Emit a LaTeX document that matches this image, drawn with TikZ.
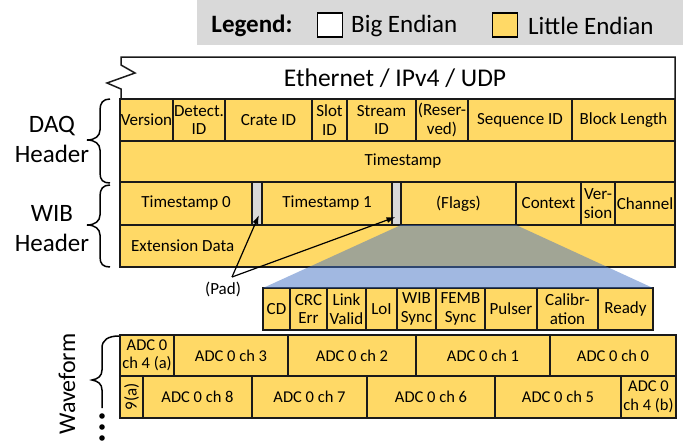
\documentclass[tikz,border=0pt]{standalone}
\usepackage{fontspec}
\setmainfont{Carlito}
\usetikzlibrary{arrows.meta,calc}

\definecolor{fieldyellow}{HTML}{FFD966}
\definecolor{padgray}{HTML}{D9D9D9}
\definecolor{legendgray}{HTML}{D9D9D9}
\definecolor{zoomblue}{HTML}{4472C4}
\definecolor{rulecol}{HTML}{1A1A1A}

% one field of a packet row: [extra style]{name}{x1}{y1}{x2}{y2}{text}
\newcommand{\fieldcell}[7][]{%
  \pgfmathsetmacro\fcw{#5-#3}%
  \pgfmathsetmacro\fch{#6-#4}%
  \node[cell,minimum width=\fcw pt,minimum height=\fch pt,#1] (#2)
    at ({(#3+#5)/2},{(#4+#6)/2}) {#7};}

\tikzset{
  cell/.style={draw=rulecol,line width=1.5pt,fill=fieldyellow,inner sep=0pt,
    outer sep=0pt,align=center,font=\fontsize{17}{18.5}\selectfont},
  padcell/.style={fill=padgray},
  adc/.style={font=\fontsize{16.5}{18.5}\selectfont},
  sidelabel/.style={align=center,font=\fontsize{25}{30}\selectfont},
  bracket/.style={draw=black,line width=1.5pt},
  pointer/.style={draw=black,line width=1.2pt,-{Latex[length=9pt,width=6pt]}},
  keybox/.style={draw=black,line width=1.3pt,minimum width=25pt,minimum height=24pt,inner sep=0pt},
  keytext/.style={font=\fontsize{25}{28}\selectfont,anchor=west,inner sep=0pt}
}

\begin{document}
\begin{tikzpicture}[x=1pt,y=-1pt]
\useasboundingbox (0,0) rectangle (683,442);

% legend band
\fill[legendgray] (197,0) rectangle (683,45);
\node[font=\bfseries\fontsize{25}{28}\selectfont] (legend) at (252,26) {Legend:};
\node[keybox,fill=white] (bigkey) at (330,25) {};
\node[keytext] (bigtxt) at (351,26) {Big Endian};
\node[keybox,fill=fieldyellow] (littlekey) at (505,25) {};
\node[keytext] (littletxt) at (528,26) {Little Endian};

% Ethernet / IPv4 / UDP box, broken on its left side
\draw[draw=rulecol,line width=1.5pt,fill=white]
  (121,100) -- (121,89) -- (107,83) -- (135,73) -- (121,65) -- (121,57)
  -- (675,57) -- (675,100);
\node[font=\fontsize{25.5}{28}\selectfont] (eth) at (395,78) {Ethernet / IPv4 / UDP};

% DAQ header
\fieldcell{version}{120}{99}{173}{141}{Version}
\fieldcell{detid}{173}{99}{225}{141}{Detect.\\ID}
\fieldcell{crate}{225}{99}{312}{141}{Crate ID}
\fieldcell{slot}{312}{99}{347}{141}{Slot\\ID}
\fieldcell{stream}{347}{99}{416}{141}{Stream\\ID}
\fieldcell{reserved}{416}{99}{468}{141}{(Reser-\\ved)}
\fieldcell{seqid}{468}{99}{572}{141}{Sequence ID}
\fieldcell{blocklen}{572}{99}{675}{141}{Block Length}
\fieldcell{timestamp}{120}{141}{675}{182}{\hspace*{11pt}Timestamp}

% WIB header
\fieldcell{ts0}{120}{182}{252}{225}{Timestamp 0}
\fieldcell[padcell]{pad1}{252}{182}{262}{225}{}
\fieldcell{ts1}{262}{182}{392}{225}{Timestamp 1}
\fieldcell[padcell]{pad2}{392}{182}{401}{225}{}
\fieldcell{flags}{401}{182}{516}{225}{(Flags)}
\fieldcell{context}{516}{182}{581}{225}{Context}
\fieldcell{wibver}{581}{182}{615}{225}{Ver-\\sion}
\fieldcell{channel}{615}{182}{675}{225}{Channel}
\fieldcell{ext}{120}{225}{675}{267}{}
\node[anchor=west,inner sep=0pt,font=\fontsize{17}{18.5}\selectfont] (exttext)
  at ([xshift=11pt]ext.west) {Extension Data};

% flag bits, expanded from (Flags)
\fieldcell{cd}{263}{288}{290}{330}{CD}
\fieldcell{crc}{290}{288}{327}{330}{CRC\\Err}
\fieldcell{link}{327}{288}{366}{330}{Link\\Valid}
\fieldcell{lol}{366}{288}{397}{330}{LoI}
\fieldcell{wibsync}{397}{288}{436}{330}{WIB\\Sync}
\fieldcell{fembsync}{436}{288}{485}{330}{FEMB\\Sync}
\fieldcell{pulser}{485}{288}{537}{330}{Pulser}
\fieldcell{calib}{537}{288}{598}{330}{Calibr-\\ation}
\fieldcell{ready}{598}{288}{653}{330}{Ready}

% zoom-out wedge from (Flags) to the bit row
\fill[zoomblue,fill opacity=0.5]
  (flags.south west) -- (flags.south east) -- (ready.north east) -- (cd.north west) -- cycle;

% padding pointers
\node[font=\fontsize{17}{18.5}\selectfont] (padlbl) at (223,289) {(Pad)};
\coordinate (padsrc) at (232,277);
\draw[pointer] (padsrc) -- ([xshift=2pt,yshift=10pt]pad1.south);
\draw[pointer] (padsrc) -- ([xshift=-1pt,yshift=8pt]pad2.south);

% waveform words
\fieldcell[adc]{c4a}{120}{335}{174}{376}{ADC 0\\ch 4 (a)}
\fieldcell[adc]{c3}{174}{335}{288}{376}{ADC 0 ch 3}
\fieldcell[adc]{c2}{288}{335}{416}{376}{ADC 0 ch 2}
\fieldcell[adc]{c1}{416}{335}{550}{376}{ADC 0 ch 1}
\fieldcell[adc]{c0}{550}{335}{676}{376}{ADC 0 ch 0}
\fieldcell[adc]{c9a}{120}{376}{143}{418}{}
\node[rotate=90,inner sep=0pt,font=\fontsize{17}{18.5}\selectfont] (c9atext) at (c9a.center) {9(a)};
\fieldcell[adc]{c8}{143}{376}{252}{418}{ADC 0 ch 8}
\fieldcell[adc]{c7}{252}{376}{367}{418}{ADC 0 ch 7}
\fieldcell[adc]{c6}{367}{376}{495}{418}{ADC 0 ch 6}
\fieldcell[adc]{c5}{495}{376}{621}{418}{ADC 0 ch 5}
\fieldcell[adc]{c4b}{621}{376}{676}{418}{ADC 0\\ch 4 (b)}

% braces and side labels
\draw[bracket] (110,99) .. controls (103,99) and (100,103) .. (100,110) -- (100,130)
  .. controls (100,136) and (95,140) .. (87,140)
  .. controls (95,140) and (100,144) .. (100,150) -- (100,173)
  .. controls (100,180) and (103,183) .. (110,183);
\draw[bracket] (110,185) .. controls (103,185) and (100,189) .. (100,196) -- (100,215)
  .. controls (100,221) and (95,225) .. (87,225)
  .. controls (95,225) and (100,229) .. (100,235) -- (100,257)
  .. controls (100,264) and (103,267) .. (110,267);
\draw[bracket] (119,336) .. controls (108,336) and (102,340) .. (102,348) -- (102,370)
  .. controls (102,376) and (98,379) .. (92,380)
  .. controls (98,381) and (102,384) .. (102,390) -- (102,408);
\foreach \yy in {416,427,438} \fill (102,\yy) circle (2.8pt);

\node[sidelabel] (daqlbl) at (52,139) {DAQ\\Header};
\node[sidelabel] (wiblbl) at (52,229) {WIB\\Header};
\node[rotate=90,font=\fontsize{24}{28}\selectfont] (wavelbl) at (67,384) {Waveform};
\end{tikzpicture}
\end{document}
